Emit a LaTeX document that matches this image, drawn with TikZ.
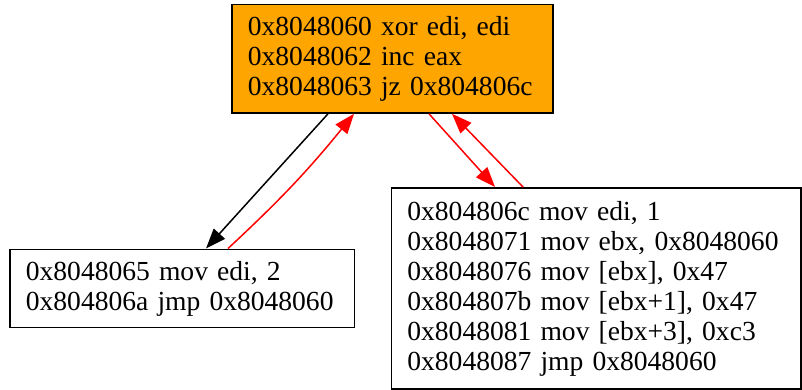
\documentclass[tikz,border=0pt]{standalone}
\usepackage{fontspec}
\setmainfont{Liberation Serif}
\usetikzlibrary{arrows.meta}
\definecolor{gvorange}{HTML}{FFA500}
\tikzset{
  blockbox/.style={draw=black, line width=1.8pt, anchor=north west, align=left,
    inner xsep=16pt, inner ysep=0pt, font=\fontsize{27.55}{30}\selectfont},
  edgeline/.style={line width=1.5pt, -{Triangle[length=20pt,width=15pt]}},
}
\begin{document}
\begin{tikzpicture}[x=1pt,y=-1pt]
\useasboundingbox (0,0) rectangle (802,389);
\node[blockbox, fill=gvorange, text width=289pt, minimum height=108.5pt] (top) at (231,3.5)
  {\mbox{0x8048060 xor edi, edi}\\\mbox{0x8048062 inc eax}\\\mbox{0x8048063 jz 0x804806c}};
\node[blockbox, fill=white, text width=312.5pt, minimum height=78pt] (left) at (9,248.5)
  {\mbox{0x8048065 mov edi, 2}\\\mbox{0x804806a jmp 0x8048060}};
\node[blockbox, fill=white, text width=377.5pt, minimum height=201pt] (right) at (390.5,187)
  {\mbox{0x804806c mov edi, 1}\\\mbox{0x8048071 mov ebx, 0x8048060}\\\mbox{0x8048076 mov [ebx], 0x47}\\\mbox{0x804807b mov [ebx+1], 0x47}\\\mbox{0x8048081 mov [ebx+3], 0xc3}\\\mbox{0x8048087 jmp 0x8048060}};
\draw[edgeline, black] ([xshift=97pt]top.south west) -- ([xshift=197pt]left.north west);
\draw[edgeline, red] ([xshift=219pt]left.north west) to[bend right=4] ([xshift=123pt]top.south west);
\draw[edgeline, red] ([xshift=198pt]top.south west) -- ([xshift=104.5pt]right.north west);
\draw[edgeline, red] ([xshift=132.5pt]right.north west) -- ([xshift=221pt]top.south west);
\end{tikzpicture}
\end{document}
